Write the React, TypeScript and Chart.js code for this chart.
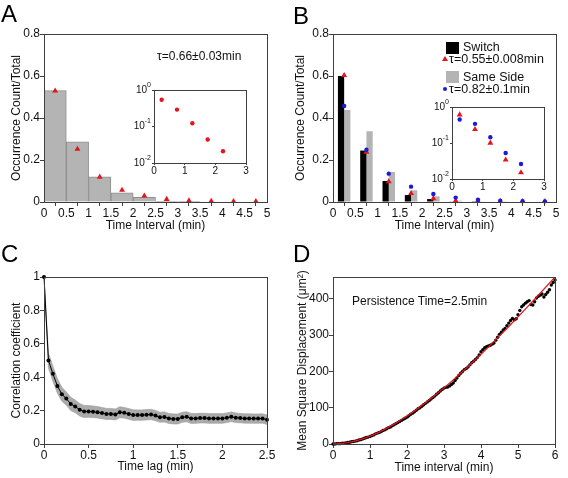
import React, { useEffect, useRef } from "react";
import { Chart, registerables } from "chart.js";
Chart.register(...registerables);

const FONT = "'Liberation Sans', Arial, Helvetica, 'DejaVu Sans', sans-serif";
const AXIS = "#3f3f3f";
const TEXT = "#111111";
const RED = "#e3141b";
const BLUE = "#1a1adb";
const GRAY = "#b4b4b4";

// ---------- Panel A ----------
const binCenters = [0.25, 0.75, 1.25, 1.75, 2.25, 2.75, 3.25, 3.75, 4.25, 4.75];
const aHist = [0.53, 0.287, 0.12, 0.044, 0.022, 0.003, 0.001, 0, 0, 0];
const aFit = [0.529, 0.252, 0.119, 0.057, 0.029, 0.013, 0.006, 0.004, 0.003, 0.003];
const insetX = [0.25, 0.75, 1.25, 1.75, 2.25];
const aInsetY = [0.54, 0.29, 0.123, 0.044, 0.021];

// ---------- Panel B ----------
const bSwitch = [0.6, 0.245, 0.1, 0.033, 0.014, 0.003, 0.001, 0, 0, 0];
const bSame = [0.438, 0.337, 0.143, 0.056, 0.027, 0.006, 0.003, 0.001, 0, 0];
const bSwitchFit = [0.603, 0.238, 0.097, 0.041, 0.017, 0.006, 0.004, 0.003, 0.003, 0.003];
const bSameFit = [0.457, 0.249, 0.135, 0.073, 0.038, 0.021, 0.011, 0.006, 0.004, 0.003];
const bInsetSwitch = [0.61, 0.24, 0.1, 0.034, 0.015];
const bInsetSame = [0.45, 0.34, 0.144, 0.053, 0.026];

// ---------- Panel C ----------
const corrStep = 0.05;
const corrValues = [
  1.0, 0.5, 0.42, 0.348, 0.298, 0.272, 0.24, 0.225, 0.205, 0.195,
  0.195, 0.193, 0.19, 0.185, 0.18, 0.18, 0.177, 0.19, 0.187, 0.18,
  0.173, 0.173, 0.173, 0.175, 0.177, 0.17, 0.16, 0.162, 0.153, 0.15,
  0.15, 0.16, 0.163, 0.153, 0.153, 0.155, 0.155, 0.153, 0.153, 0.153,
  0.153, 0.157, 0.163, 0.157, 0.155, 0.153, 0.153, 0.152, 0.152, 0.153,
  0.145,
];
const corrErr = [
  0, 0.045, 0.045, 0.043, 0.042, 0.04, 0.04, 0.038, 0.037, 0.036,
  0.035, 0.035, 0.034, 0.034, 0.033, 0.033, 0.033, 0.033, 0.032, 0.032,
  0.032, 0.031, 0.031, 0.031, 0.031, 0.031, 0.03, 0.03, 0.03, 0.03,
  0.03, 0.03, 0.03, 0.03, 0.029, 0.029, 0.029, 0.029, 0.029, 0.029,
  0.029, 0.029, 0.029, 0.029, 0.028, 0.028, 0.028, 0.028, 0.028, 0.028,
  0.028,
];

// ---------- Panel D ----------
const msdStep = 0.05;
const msdValues = [
  0, 0, 1, 1, 1, 2, 2, 3, 4, 5,
  6, 7, 8, 9, 11, 12, 14, 16, 18, 19,
  21, 23, 25, 28, 30, 32, 34, 37, 39, 42,
  45, 47, 50, 53, 56, 59, 62, 65, 68, 71,
  74, 78, 82, 85, 89, 93, 97, 100, 104, 108,
  112, 116, 120, 124, 128, 132, 137, 141, 146, 150,
  154, 156, 157, 160, 164, 168, 175, 182, 189, 195,
  200, 205, 208, 212, 218, 224, 228, 233, 238, 245,
  254, 260, 265, 268, 270, 272, 275, 278, 286, 294,
  302, 308, 314, 318, 326, 333, 340, 346, 342, 345,
  356, 368, 378, 383, 388, 392, 395, 384, 383, 392,
  402, 407, 410, 413, 405, 412, 418, 425, 438, 445,
  452,
];
const fitStep = 0.25;
const msdFit = [
  0, 1.5, 5.8, 12.6, 21.7, 32.9, 45.9, 60.7, 76.9, 94.6, 113.5, 133.5, 154.6,
  176.6, 199.5, 223.1, 247.4, 272.3, 297.8, 323.8, 350.3, 377.1, 404.4, 432.0, 459.9,
];

// ---------- ticks ----------
const histXTicks = [0, 0.5, 1, 1.5, 2, 2.5, 3, 3.5, 4, 4.5, 5];
const histYTicks = [0, 0.2, 0.4, 0.6, 0.8];
const insetXTicks = [0, 1, 2, 3];
const insetYTicks = [0.01, 0.1, 1];
const insetYExponents = ["-2", "-1", "0"];
const cXTicks = [0, 0.5, 1, 1.5, 2, 2.5];
const cYTicks = [0, 0.2, 0.4, 0.6, 0.8, 1];
const dXTicks = [0, 1, 2, 3, 4, 5, 6];
const dYTicks = [0, 100, 200, 300, 400];

const fmt = (v: number) => String(Math.round(v * 100) / 100);

const boxPlugin = {
  id: "boxFrame",
  beforeDatasetsDraw(chart: any, _a: any, opts: any) {
    if (opts && opts.fill) {
      const a = chart.chartArea;
      chart.ctx.save();
      chart.ctx.fillStyle = opts.fill;
      chart.ctx.fillRect(a.left, a.top, a.right - a.left, a.bottom - a.top);
      chart.ctx.restore();
    }
  },
  afterDraw(chart: any, _a: any, opts: any) {
    const { ctx, chartArea: a } = chart;
    const al = (p: number) => Math.round(p - 0.5) + 0.5;
    ctx.save();
    ctx.strokeStyle = AXIS;
    ctx.lineWidth = 1;
    ctx.strokeRect(al(a.left), al(a.top), al(a.right) - al(a.left), al(a.bottom) - al(a.top));
    // power-of-ten labels for log insets
    if (opts && opts.powers) {
      const ys = chart.scales.y;
      ctx.fillStyle = TEXT;
      ctx.textBaseline = "middle";
      ctx.textAlign = "right";
      insetYTicks.forEach((v, i) => {
        const py = ys.getPixelForValue(v);
        const xr = a.left - 3;
        ctx.font = `7px ${FONT}`;
        const exp = insetYExponents[i];
        const ew = ctx.measureText(exp).width;
        ctx.fillText(exp, xr, py - 5);
        ctx.font = `10px ${FONT}`;
        ctx.fillText("10", xr - ew, py);
      });
    }
    ctx.restore();
  },
};

function axis(o: any) {
  return {
    type: o.type || "linear",
    min: o.min,
    max: o.max,
    offset: false,
    grid: {
      display: true,
      drawOnChartArea: false,
      drawTicks: true,
      tickLength: o.tickLength ?? 4,
      color: AXIS,
      lineWidth: 1,
    },
    border: { display: true, color: AXIS, width: 1 },
    ticks: {
      color: TEXT,
      font: { family: FONT, size: o.fontSize ?? 12 },
      padding: o.pad ?? 0,
      autoSkip: false,
      maxRotation: 0,
      minRotation: 0,
      callback: o.blank ? () => "" : (v: any) => fmt(Number(v)),
    },
    title: o.title
      ? {
          display: true,
          text: o.title,
          color: TEXT,
          font: { family: FONT, size: 12 },
          padding: o.titlePad,
        }
      : { display: false },
    afterBuildTicks: (s: any) => {
      s.ticks = o.ticks.map((v: number) => ({ value: v }));
    },
    afterFit: (s: any) => {
      if (o.horizontal) s.height = o.size;
      else s.width = o.size;
    },
  };
}

function baseOptions(padding: any, scales: any, frame: any = {}) {
  return {
    responsive: false,
    animation: false,
    events: [],
    layout: { padding },
    plugins: {
      legend: { display: false },
      tooltip: { enabled: false },
      boxFrame: frame,
    },
    scales,
  };
}

const triangle = (data: any[], color: string, r = 3.4) => ({
  type: "scatter",
  data,
  pointStyle: "triangle",
  pointRadius: r,
  backgroundColor: color,
  borderColor: color,
  borderWidth: 0,
  clip: false,
  order: 0,
});
const dots = (data: any[], color: string, r = 2.2) => ({
  type: "scatter",
  data,
  pointStyle: "circle",
  pointRadius: r,
  backgroundColor: color,
  borderColor: color,
  borderWidth: 0,
  clip: false,
  order: 0,
});

function makeA() {
  return {
    type: "bar",
    data: {
      datasets: [
        triangle(binCenters.map((x, i) => ({ x, y: aFit[i] })), RED),
        {
          type: "bar",
          data: binCenters.map((x, i) => ({ x, y: aHist[i] })),
          backgroundColor: GRAY,
          borderColor: "#8e8e8e",
          borderWidth: 1,
          barPercentage: 1,
          categoryPercentage: 1,
          order: 1,
        },
      ],
    },
    options: baseOptions({ left: 0, right: 17, top: 34, bottom: 0 }, {
      x: axis({ min: 0, max: 5, ticks: histXTicks, horizontal: true, size: 33, title: "Time Interval (min)", titlePad: { top: 0, bottom: 2 } }),
      y: axis({ min: 0, max: 0.8, ticks: histYTicks, size: 44, title: "Occurrence Count/Total", titlePad: { top: 9, bottom: 0 } }),
    }),
    plugins: [boxPlugin],
  };
}

function makeB() {
  return {
    type: "bar",
    data: {
      datasets: [
        dots(binCenters.map((x, i) => ({ x, y: bSameFit[i] })), BLUE, 2.2),
        triangle(binCenters.map((x, i) => ({ x, y: bSwitchFit[i] })), RED),
        {
          type: "bar",
          data: binCenters.map((x, i) => ({ x, y: bSwitch[i] })),
          backgroundColor: "#000000",
          borderWidth: 0,
          barPercentage: 1,
          categoryPercentage: 0.56,
          order: 1,
        },
        {
          type: "bar",
          data: binCenters.map((x, i) => ({ x, y: bSame[i] })),
          backgroundColor: GRAY,
          borderWidth: 0,
          barPercentage: 1,
          categoryPercentage: 0.56,
          order: 1,
        },
      ],
    },
    options: baseOptions({ left: 0, right: 12, top: 34, bottom: 0 }, {
      x: axis({ min: 0, max: 5, ticks: histXTicks, horizontal: true, size: 33, title: "Time Interval (min)", titlePad: { top: 0, bottom: 2 } }),
      y: axis({ min: 0, max: 0.8, ticks: histYTicks, size: 49, title: "Occurrence Count/Total", titlePad: { top: 9, bottom: 0 } }),
    }),
    plugins: [boxPlugin],
  };
}

function insetScales() {
  return {
    x: axis({ min: 0, max: 3, ticks: insetXTicks, horizontal: true, size: 16, tickLength: 2, fontSize: 10 }),
    y: axis({ type: "logarithmic", min: 0.01, max: 1, ticks: insetYTicks, blank: true, size: 34, tickLength: 2, fontSize: 10 }),
  };
}

function makeAInset() {
  return {
    type: "scatter",
    data: { datasets: [dots(insetX.map((x, i) => ({ x, y: aInsetY[i] })), RED, 2.2)] },
    options: baseOptions({ left: 0, right: 8, top: 8, bottom: 0 }, insetScales(), { fill: "#ffffff", powers: true }),
    plugins: [boxPlugin],
  };
}

function makeBInset() {
  return {
    type: "scatter",
    data: {
      datasets: [
        dots(insetX.map((x, i) => ({ x, y: bInsetSame[i] })), BLUE, 2.2),
        triangle(insetX.map((x, i) => ({ x, y: bInsetSwitch[i] })), RED),
      ],
    },
    options: baseOptions({ left: 0, right: 8, top: 8, bottom: 0 }, insetScales(), { fill: "#ffffff", powers: true }),
    plugins: [boxPlugin],
  };
}

function makeC() {
  const pts = corrValues.map((y, i) => ({ x: i * corrStep, y }));
  const up = corrValues.map((y, i) => ({ x: i * corrStep, y: y + corrErr[i] }));
  const lo = corrValues.map((y, i) => ({ x: i * corrStep, y: y - corrErr[i] }));
  return {
    type: "line",
    data: {
      datasets: [
        { data: up, borderWidth: 0.6, pointRadius: 0, fill: false, order: 2, borderColor: "#999999" },
        { data: lo, borderWidth: 0.6, pointRadius: 0, fill: "-1", backgroundColor: "#ababab", order: 2, borderColor: "#999999" },
        {
          data: pts,
          borderColor: "#000000",
          borderWidth: 1,
          pointRadius: 2,
          pointBackgroundColor: "#000000",
          pointBorderWidth: 0,
          fill: false,
          clip: false,
          order: 0,
        },
      ],
    },
    options: baseOptions({ left: 0, right: 17, top: 42, bottom: 0 }, {
      x: axis({ min: 0, max: 2.5, ticks: cXTicks, horizontal: true, size: 34, title: "Time lag (min)", titlePad: { top: 0, bottom: 4 } }),
      y: axis({ min: 0, max: 1, ticks: cYTicks, size: 44, title: "Correlation coefficient", titlePad: { top: 9, bottom: 0 } }),
    }),
    plugins: [boxPlugin],
  };
}

function makeD() {
  return {
    type: "scatter",
    data: {
      datasets: [
        {
          type: "line",
          data: msdFit.map((y, i) => ({ x: i * fitStep, y })),
          borderColor: RED,
          borderWidth: 1.3,
          pointRadius: 0,
          cubicInterpolationMode: "monotone",
          fill: false,
          order: 0,
        },
        {
          type: "scatter",
          data: msdValues.map((y, i) => ({ x: i * msdStep, y })),
          pointRadius: 1.7,
          backgroundColor: "#000000",
          borderWidth: 0,
          clip: false,
          order: 1,
        },
      ],
    },
    options: baseOptions({ left: 0, right: 13, top: 42, bottom: 0 }, {
      x: axis({ min: 0, max: 6, ticks: dXTicks, horizontal: true, size: 34, title: "Time interval (min)", titlePad: { top: 0, bottom: 3 } }),
      y: axis({ min: 0, max: 460, ticks: dYTicks, size: 49, title: "Mean Square Displacement (μm²)", titlePad: { top: 11, bottom: 0 } }),
    }),
    plugins: [boxPlugin],
  };
}

function ChartBox({ left, top, width, height, make }: any) {
  const ref = useRef<HTMLCanvasElement>(null);
  useEffect(() => {
    const c = new Chart(ref.current as HTMLCanvasElement, make());
    return () => c.destroy();
  }, []);
  return (
    <canvas
      ref={ref}
      width={width}
      height={height}
      style={{ position: "absolute", left, top, width, height, display: "block" }}
    />
  );
}

function Label({ x, cy, size = 12, children, style }: any) {
  const lh = Math.round(size * 1.2);
  return (
    <div
      style={{
        position: "absolute",
        left: x,
        top: cy - lh / 2,
        fontFamily: FONT,
        fontSize: size,
        lineHeight: `${lh}px`,
        color: TEXT,
        whiteSpace: "nowrap",
        ...style,
      }}
    >
      {children}
    </div>
  );
}

function Letter({ x, y, children }: any) {
  return (
    <div
      style={{
        position: "absolute",
        left: x,
        top: y,
        fontFamily: FONT,
        fontSize: 24,
        lineHeight: "24px",
        color: "#000",
      }}
    >
      {children}
    </div>
  );
}

export default function App() {
  return (
    <div
      style={{
        position: "fixed",
        left: 0,
        top: 0,
        width: 568,
        height: 478,
        background: "#ffffff",
        overflow: "hidden",
      }}
    >
      <ChartBox left={0} top={0} width={284} height={235} make={makeA} />
      <ChartBox left={120} top={82} width={134} height={97} make={makeAInset} />
      <ChartBox left={284} top={0} width={284} height={235} make={makeB} />
      <ChartBox left={418} top={99} width={134} height={96} make={makeBInset} />
      <ChartBox left={0} top={235} width={284} height={243} make={makeC} />
      <ChartBox left={284} top={235} width={284} height={243} make={makeD} />

      <Letter x={1} y={2}>A</Letter>
      <Letter x={293} y={4}>B</Letter>
      <Letter x={1} y={242}>C</Letter>
      <Letter x={293} y={242}>D</Letter>

      <Label x={157} cy={56} size={12}>τ=0.66±0.03min</Label>
      <Label x={352} cy={301} size={12}>Persistence Time=2.5min</Label>

      {/* legend of panel B */}
      <div style={{ position: "absolute", left: 446, top: 42, width: 13, height: 12, background: "#000" }} />
      <Label x={463} cy={47} size={12.5}>Switch</Label>
      <div
        style={{
          position: "absolute",
          left: 442,
          top: 56,
          width: 0,
          height: 0,
          borderLeft: "3px solid transparent",
          borderRight: "3px solid transparent",
          borderBottom: `5px solid ${RED}`,
        }}
      />
      <Label x={449} cy={59} size={12.5}>τ=0.55±0.008min</Label>
      <div style={{ position: "absolute", left: 446, top: 71, width: 13, height: 12, background: GRAY }} />
      <Label x={463} cy={77} size={12.5}>Same Side</Label>
      <div
        style={{
          position: "absolute",
          left: 443,
          top: 87,
          width: 4,
          height: 4,
          borderRadius: 2,
          background: BLUE,
        }}
      />
      <Label x={449} cy={89} size={12.5}>τ=0.82±0.1min</Label>
    </div>
  );
}
